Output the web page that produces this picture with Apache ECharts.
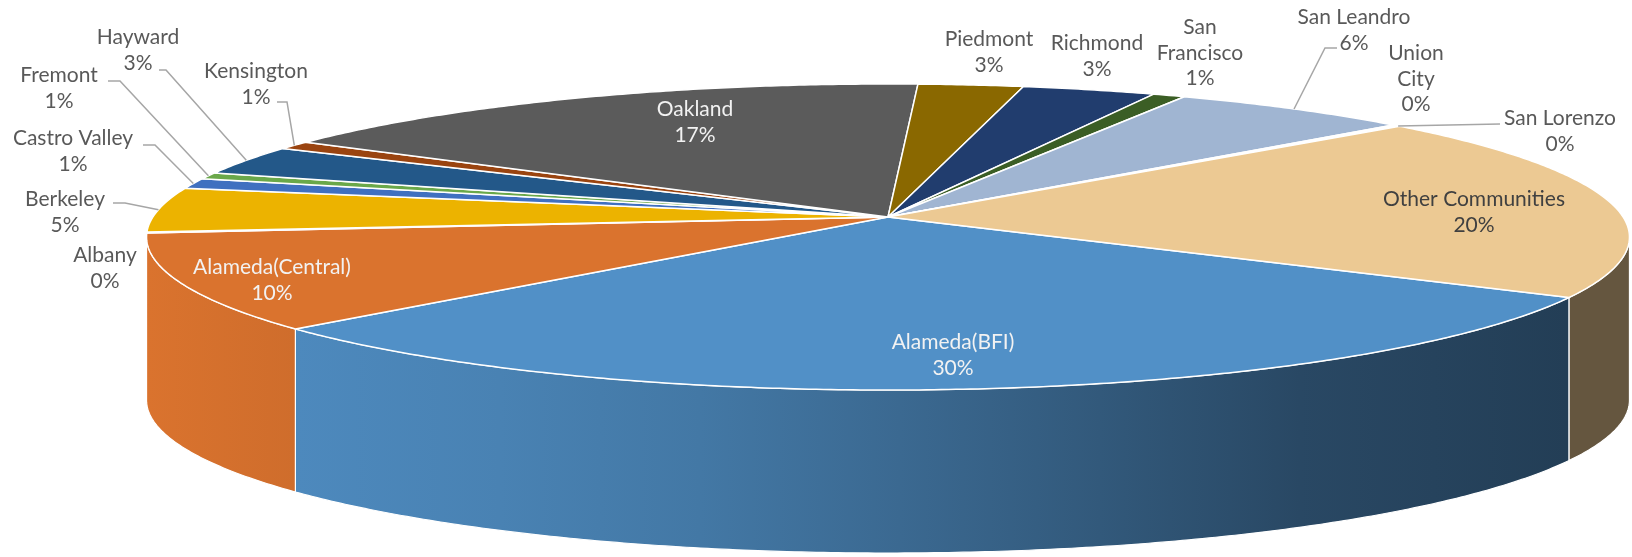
<!DOCTYPE html>
<html>
<head>
<meta charset="utf-8">
<title>Communities</title>
<script src="https://cdn.jsdelivr.net/npm/echarts@6/dist/echarts.min.js"></script>
<style>
  html, body { margin: 0; padding: 0; background: #ffffff; }
  #chart { width: 1632px; height: 557px; }
</style>
</head>
<body>
<div id="chart"></div>
<script>
// Share of each community (percent of total)
const categories = [
  'Alameda(BFI)', 'Alameda(Central)', 'Albany', 'Berkeley', 'Castro Valley',
  'Fremont', 'Hayward', 'Kensington', 'Oakland', 'Piedmont', 'Richmond',
  'San Francisco', 'San Leandro', 'Union City', 'San Lorenzo', 'Other Communities'
];
const values = [29.8, 10.2, 0.1, 4.7, 1.1, 0.7, 3.1, 0.9, 16.8, 2.6, 3.3, 0.8, 6.0, 0.1, 0.1, 19.7];

// Slice colours (top face); the side walls are shaded from these
const palette = [
  '#5190c7', '#da732e', '#a5a5a5', '#ecb300', '#4070c0', '#6aa84a', '#235889', '#9a4410',
  '#5b5b5b', '#8a6800', '#213d6e', '#3b5e25', '#a0b5d2', '#f1975a', '#b7b7b7', '#ecc993'
];

// Label placement: block centre, text colour, optional leader start
const labelLayout = {
  'Alameda(BFI)':      { pos: [953, 355], color: '#f2f2f2' },
  'Alameda(Central)':  { pos: [272, 280], color: '#f2f2f2' },
  'Albany':            { pos: [105, 268], color: '#595959' },
  'Berkeley':          { pos: [65, 212],  color: '#595959', leader: [[113, 203], [125, 203]] },
  'Castro Valley':     { pos: [73, 151],  color: '#595959', leader: [[143, 145], [155, 145]] },
  'Fremont':           { pos: [59, 88],   color: '#595959', leader: [[108, 81], [120, 81]] },
  'Hayward':           { pos: [138, 50],  color: '#595959', leader: [[159, 70], [166, 70]] },
  'Kensington':        { pos: [256, 84],  color: '#595959', leader: [[277, 102], [287, 102]] },
  'Oakland':           { pos: [695, 122], color: '#f2f2f2' },
  'Piedmont':          { pos: [989, 52],  color: '#595959' },
  'Richmond':          { pos: [1097, 56], color: '#595959' },
  'San Francisco':     { pos: [1200, 53], color: '#595959', wrap: true },
  'San Leandro':       { pos: [1354, 30], color: '#595959', leader: [[1337, 48], [1325, 48]] },
  'Union City':        { pos: [1416, 79], color: '#595959', wrap: true },
  'San Lorenzo':       { pos: [1560, 131], color: '#595959', leader: [[1500, 124]] },
  'Other Communities': { pos: [1474, 212], color: '#404040' }
};

// Disc geometry: centre, radii, perspective strength, thickness, first slice angle
const CX = 888, CY = 217, RX = 735.1, RY = 150.4, PERSP = 0.1307, DEPTH = 163, START = 120;
const FONT = '21px Lato';
const LINE_H = 25.5;

const total = values.reduce((s, v) => s + v, 0);
const starts = [];
values.reduce((acc, v, i) => { starts[i] = acc; return acc + v / total * 360; }, START);

// angle in degrees, clockwise from the back of the disc
function proj(deg, dy) {
  const t = deg * Math.PI / 180;
  const X = Math.sin(t), Z = -Math.cos(t);
  const w = 1 - PERSP * Z;
  return [CX + RX * X / w, CY + RY * Z / w + (dy || 0)];
}
function arc(a0, a1, dy) {
  const n = Math.max(2, Math.ceil((a1 - a0) / 0.5) + 1);
  const pts = [];
  for (let k = 0; k < n; k++) pts.push(proj(a0 + (a1 - a0) * k / (n - 1), dy));
  return pts;
}
const VIS0 = Math.acos(-PERSP) * 180 / Math.PI;
const VIS1 = 360 - VIS0;

function shade(hex, f) {
  const n = parseInt(hex.slice(1), 16);
  const r = Math.round(((n >> 16) & 255) * f);
  const g = Math.round(((n >> 8) & 255) * f);
  const b = Math.round((n & 255) * f);
  return 'rgb(' + r + ',' + g + ',' + b + ')';
}
// side lighting across the width of the disc
const wallLight = [[147, 1.0], [296, 0.95], [500, 0.9], [700, 0.83], [900, 0.73], [1100, 0.62], [1300, 0.5], [1567, 0.43], [1630, 0.43]];
function wallFill(hex) {
  const x0 = wallLight[0][0], x1 = wallLight[wallLight.length - 1][0];
  return {
    type: 'linear', x: x0, y: 0, x2: x1, y2: 0, global: true,
    colorStops: wallLight.map(([x, f]) => ({ offset: (x - x0) / (x1 - x0), color: shade(hex, f) }))
  };
}

const chart = echarts.init(document.getElementById('chart'), null, { renderer: 'canvas' });

chart.setOption({
  backgroundColor: '#ffffff',
  animation: false,
  series: [{
    type: 'custom',
    coordinateSystem: 'none',
    data: categories.map((c, i) => ({ name: c, value: values[i] })),
    renderItem: function (params, api) {
      const i = params.dataIndex;
      const name = categories[i];
      const a0 = starts[i];
      const a1 = a0 + api.value(0) / total * 360;
      const color = palette[i];
      const children = [];

      // outer wall, front half only
      [-360, 0, 360].forEach(k => {
        const lo = Math.max(a0 + k, VIS0), hi = Math.min(a1 + k, VIS1);
        if (hi > lo) {
          const top = arc(lo, hi, 0);
          const bottom = arc(lo, hi, DEPTH).reverse();
          children.push({
            type: 'polygon', z2: 1,
            shape: { points: top.concat(bottom) },
            style: { fill: wallFill(color), stroke: '#ffffff', lineWidth: 1.2 }
          });
        }
      });

      // top face
      children.push({
        type: 'polygon', z2: 10,
        shape: { points: [[CX, CY]].concat(arc(a0, a1, 0)) },
        style: { fill: color, stroke: '#ffffff', lineWidth: 1.5, lineJoin: 'round' }
      });

      // label
      const lay = labelLayout[name];
      const pct = Math.round(api.value(0) / total * 100) + '%';
      const title = lay.wrap ? name.replace(' ', '\n') : name;
      children.push({
        type: 'text', z2: 30,
        style: {
          text: title + '\n' + pct,
          x: lay.pos[0], y: lay.pos[1],
          fill: lay.color, font: FONT, lineHeight: LINE_H,
          align: 'center', verticalAlign: 'middle'
        }
      });
      if (lay.leader) {
        const end = proj((a0 + a1) / 2, 0);
        children.push({
          type: 'polyline', z2: 20,
          shape: { points: lay.leader.concat([end]) },
          style: { stroke: '#a6a6a6', lineWidth: 1.5, fill: null }
        });
      }
      return { type: 'group', children: children };
    }
  }]
});
</script>
</body>
</html>
